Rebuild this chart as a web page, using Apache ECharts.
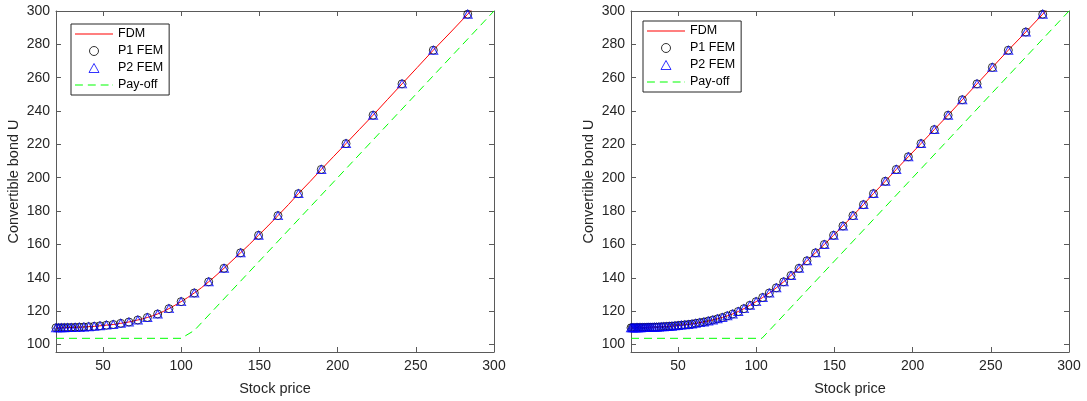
<!DOCTYPE html>
<html>
<head>
<meta charset="utf-8">
<script src="https://cdn.jsdelivr.net/npm/echarts@6/dist/echarts.min.js"></script>
<style>
  html, body { margin: 0; padding: 0; background: #fff; }
  #chart { width: 1087px; height: 401px; }
</style>
</head>
<body>
<div id="chart"></div>
<script>
var bondChart = echarts.init(document.getElementById('chart'));

// coarse mesh (left panel)
var leftS = [20.0, 21.6, 23.4, 25.3, 27.4, 29.7, 32.2, 34.9, 37.8, 40.9, 44.4, 48.1, 52.2, 56.6, 61.4, 66.6, 72.3,
    78.4, 85.0, 92.2, 100.0, 108.4, 117.6, 127.4, 138.0, 149.5, 161.9, 175.0, 189.6, 205.4, 222.7, 241.2, 261.2, 283.2];
var leftU = [110.0, 110.0, 110.1, 110.1, 110.2, 110.2, 110.3, 110.4, 110.5, 110.7, 110.9, 111.2, 111.6, 112.0, 112.7, 113.5, 114.7,
    116.2, 118.3, 121.5, 125.7, 130.9, 137.6, 145.7, 155.0, 165.5, 177.3, 190.5, 205.0, 220.5, 237.5, 256.3, 276.5, 298.1];

// fine mesh (right panel)
var rightS = [20.0, 20.8, 21.6, 22.5, 23.4, 24.3, 25.3, 26.3, 27.4, 28.5, 29.7, 30.9, 32.2, 33.5, 34.9, 36.3, 37.8,
    39.3, 40.9, 42.6, 44.4, 46.2, 48.1, 50.1, 52.2, 54.4, 56.6, 59.0, 61.4, 64.0, 66.6, 69.4, 72.3, 75.3, 78.4,
    81.6, 85.0, 88.6, 92.2, 96.0, 100.0, 104.2, 108.4, 112.9, 117.6, 122.3, 127.4, 132.5, 138.0, 143.6, 149.5,
    155.5, 161.9, 168.6, 175.0, 182.6, 189.6, 197.3, 205.4, 213.9, 222.7, 231.8, 241.2, 251.0, 261.2, 272.4, 283.2];
var rightU = [110.0, 110.0, 110.0, 110.0, 110.1, 110.1, 110.1, 110.1, 110.2, 110.2, 110.2, 110.3, 110.3, 110.3, 110.4, 110.4, 110.5,
    110.6, 110.7, 110.8, 110.9, 111.0, 111.2, 111.4, 111.6, 111.8, 112.0, 112.3, 112.7, 113.1, 113.5, 114.1, 114.7, 115.4, 116.2,
    117.2, 118.3, 119.8, 121.5, 123.5, 125.7, 128.2, 130.9, 134.0, 137.6, 141.4, 145.7, 150.2, 155.0, 160.0, 165.5,
    171.1, 177.3, 183.9, 190.5, 197.9, 205.0, 212.6, 220.5, 228.9, 237.5, 246.8, 256.3, 266.2, 276.5, 287.4, 298.1];

// FDM curve runs on to S = 300
var fdmS = rightS.concat([291.5, 300.0]);
var fdmU = rightU.concat([306.4, 314.6]);

var payLeftS = [20.0, 100.0, 108.4, 300.0];
var payLeftU = [103.7, 103.7, 108.4, 300.0];
var payRightS = [20.0, 103.7, 300.0];
var payRightU = [103.7, 103.7, 300.0];

var xTicks = [50, 100, 150, 200, 250, 300];
var yTicks = [100, 120, 140, 160, 180, 200, 220, 240, 260, 280, 300];

function pts(xs, ys) {
    return xs.map(function (x, i) { return [x, ys[i]]; });
}

var font = 'Liberation Sans, Arial, Helvetica, sans-serif';
var axisColor = '#5a5a5a';

function xAx(g, pos) {
    return {
        type: 'value', gridIndex: g, position: pos, min: 20, max: 300,
        name: pos === 'bottom' ? 'Stock price' : '', nameLocation: 'middle', nameGap: 29,
        nameTextStyle: { fontFamily: font, fontSize: 14.5, color: '#262626' },
        axisLine: { show: true, lineStyle: { color: axisColor, width: 1 } },
        axisTick: { show: true, inside: true, length: 5, customValues: xTicks, lineStyle: { color: axisColor } },
        axisLabel: { show: pos === 'bottom', customValues: xTicks, fontFamily: font, fontSize: 14, color: '#262626', margin: 7 },
        splitLine: { show: false }
    };
}
function yAx(g, pos) {
    return {
        type: 'value', gridIndex: g, position: pos, min: 95.5, max: 300,
        name: pos === 'left' ? 'Convertible bond U' : '', nameLocation: 'middle', nameGap: 35,
        nameTextStyle: { fontFamily: font, fontSize: 14.5, color: '#262626' },
        axisLine: { show: true, lineStyle: { color: axisColor, width: 1 } },
        axisTick: { show: true, inside: true, length: 5, customValues: yTicks, lineStyle: { color: axisColor } },
        axisLabel: { show: pos === 'left', customValues: yTicks, fontFamily: font, fontSize: 14, color: '#262626', margin: 6 },
        splitLine: { show: false }
    };
}

function panelSeries(g, meshS, meshU, payS, payU) {
    var xi = g * 2, yi = g * 2;
    return [
        { name: 'FDM', type: 'line', xAxisIndex: xi, yAxisIndex: yi, data: pts(fdmS, fdmU),
          symbol: 'none', lineStyle: { color: '#ff0000', width: 1 }, itemStyle: { color: '#ff0000' }, z: 2 },
        { name: 'P1 FEM', type: 'scatter', xAxisIndex: xi, yAxisIndex: yi, data: pts(meshS, meshU),
          symbol: 'circle', symbolSize: 8,
          itemStyle: { color: 'rgba(0,0,0,0)', borderColor: '#000', borderWidth: 1 }, z: 3 },
        { name: 'P2 FEM', type: 'scatter', xAxisIndex: xi, yAxisIndex: yi, data: pts(meshS, meshU),
          symbol: 'triangle', symbolSize: [9, 8],
          itemStyle: { color: 'rgba(0,0,0,0)', borderColor: '#0000ff', borderWidth: 1 }, z: 4 },
        { name: 'Pay-off', type: 'line', xAxisIndex: xi, yAxisIndex: yi, data: pts(payS, payU),
          symbol: 'none', lineStyle: { color: '#00ff00', width: 1, type: [8, 5] }, itemStyle: { color: '#00ff00' }, z: 5 }
    ];
}

// legend icons in the MATLAB manner: plain line, open marker, dashed line
var legendItems = [
    { name: 'FDM', icon: 'path://M0,0H38V1H0Z', itemStyle: { color: '#ff0000', borderWidth: 0 } },
    { name: 'P1 FEM', icon: 'circle', itemStyle: { color: 'rgba(0,0,0,0)', borderColor: '#000', borderWidth: 1 } },
    { name: 'P2 FEM', icon: 'path://M5,0L10,9L0,9Z', itemStyle: { color: 'rgba(0,0,0,0)', borderColor: '#0000ff', borderWidth: 1 } },
    { name: 'Pay-off', icon: 'path://M0,0H8V1H0Z M13,0H21V1H13Z M26,0H34V1H26Z M38,0H38.5V1H38Z',
      itemStyle: { color: '#00ff00', borderWidth: 0 } }
];

function legendAt(left, top) {
    return {
        left: left, top: top, orient: 'vertical', selectedMode: false,
        itemWidth: 38, itemHeight: 9, itemGap: 3, symbolKeepAspect: true,
        padding: [3, 6, 3, 4],
        borderColor: '#262626', borderWidth: 1, borderRadius: 0, backgroundColor: '#fff',
        textStyle: { fontFamily: font, fontSize: 12.5, color: '#000', lineHeight: 14 },
        data: legendItems
    };
}

option = {
    animation: false,
    grid: [
        { left: 56, top: 11, width: 438, height: 344 },
        { left: 631, top: 11, width: 438, height: 344 }
    ],
    xAxis: [xAx(0, 'bottom'), xAx(0, 'top'), xAx(1, 'bottom'), xAx(1, 'top')],
    yAxis: [yAx(0, 'left'), yAx(0, 'right'), yAx(1, 'left'), yAx(1, 'right')],
    legend: [legendAt(71, 24), legendAt(643, 21)],
    series: panelSeries(0, leftS, leftU, payLeftS, payLeftU)
        .concat(panelSeries(1, rightS, rightU, payRightS, payRightU))
};
bondChart.setOption(option);
</script>
</body>
</html>
